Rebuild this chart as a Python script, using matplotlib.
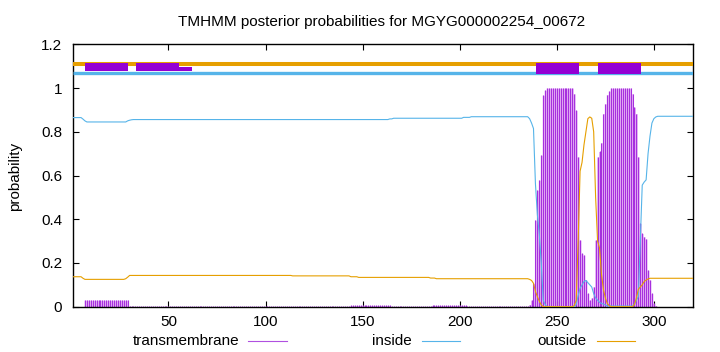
import matplotlib
matplotlib.use('Agg')
import matplotlib.pyplot as plt
from matplotlib.lines import Line2D
from matplotlib.patches import Rectangle
import numpy as np

plt.rcParams['font.family'] = ['Liberation Sans', 'DejaVu Sans']

seq_len = 320
residues = np.arange(1, seq_len + 1)

# posterior probabilities, residue 1..320
transmembrane = np.array(
    [0.0] * 6 + [0.03] * 23 + [0.001] * 114 + [0.006] * 21 + [0.001] * 21
    + [0.006] * 18 + [0.001] * 32
    + [0.01, 0.03, 0.107, 0.396, 0.533, 0.579, 0.693, 0.967, 0.99]
    + [1.0] * 14
    + [0.974, 0.898, 0.685, 0.305, 0.244, 0.236, 0.122, 0.061, 0.03, 0.04,
       0.091, 0.305, 0.685, 0.71, 0.75, 0.883, 0.928, 0.97, 0.986]
    + [1.0] * 11
    + [0.974, 0.913, 0.883, 0.685, 0.381, 0.335, 0.32, 0.31, 0.167, 0.122,
       0.061, 0.015, 0.005]
    + [0.0] * 19)

inside = np.array(
    [0.865] * 5 + [0.858, 0.85] + [0.845] * 21 + [0.85, 0.853, 0.855]
    + [0.856] * 132 + [0.859] * 2 + [0.862] * 36 + [0.866] * 4 + [0.869] * 30
    + [0.86, 0.84, 0.815, 0.563, 0.42, 0.33, 0.2, 0.03, 0.01]
    + [0.0] * 15
    + [0.01, 0.05, 0.084, 0.1, 0.115, 0.12, 0.11, 0.1, 0.09, 0.06, 0.04,
       0.03, 0.02, 0.015, 0.012, 0.008]
    + [0.003] * 14
    + [0.01, 0.03, 0.046, 0.3, 0.556, 0.57, 0.58, 0.7, 0.78, 0.84, 0.86, 0.868]
    + [0.871] * 19)

outside = np.array(
    [0.137] * 5 + [0.13] + [0.125] * 21 + [0.128, 0.135] + [0.143] * 84
    + [0.141] * 30 + [0.137] * 4 + [0.134] * 37 + [0.131] * 3 + [0.128] * 48
    + [0.125, 0.12, 0.107, 0.07, 0.046, 0.025, 0.008]
    + [0.0] * 16
    + [0.005, 0.03, 0.3, 0.62, 0.66, 0.74, 0.8, 0.86, 0.868, 0.862, 0.8, 0.5,
       0.3, 0.27, 0.15, 0.08, 0.04, 0.015, 0.005]
    + [0.0] * 12
    + [0.01, 0.04, 0.08, 0.09, 0.1, 0.115, 0.122, 0.127]
    + [0.13] * 23)

# predicted segments drawn at the top (start, end)
upper_boxes = [(7.0, 29.0), (33.1, 55.4)]
upper_box_tail = (55.4, 62.0)
helix_boxes = [(239.3, 261.5), (271.2, 293.4)]

c_tm = '#9400d3'
c_tm_light = '#e2aaf4'
c_in = '#56b4e9'
c_out = '#e69f00'

fig = plt.figure(figsize=(7.2, 3.52), dpi=100)
ax = fig.add_axes([0.1018, 0.1287, 0.8603, 0.7453])

ax.fill_between(residues, 0, transmembrane, step='mid', color=c_tm_light, lw=0, zorder=1.5)
ax.vlines(residues, 0, transmembrane, color='#a630de', lw=0.75, zorder=2)
ax.plot(residues, inside, color=c_in, lw=0.8, zorder=3)
ax.plot(residues, outside, color=c_out, lw=0.8, zorder=3)

ax.plot([1, seq_len], [1.11, 1.11], color=c_out, lw=2.9, solid_capstyle='butt', zorder=4)
ax.plot([1, seq_len], [1.07, 1.07], color=c_in, lw=2.4, solid_capstyle='butt', zorder=4)

for a, b in upper_boxes:
    ax.add_patch(Rectangle((a, 1.078), b - a, 0.038, color=c_tm, lw=0, zorder=5))
a, b = upper_box_tail
ax.add_patch(Rectangle((a, 1.078), b - a, 0.02, color=c_tm, lw=0, zorder=3.5))
for a, b in helix_boxes:
    ax.add_patch(Rectangle((a, 1.064), b - a, 0.052, color=c_tm, lw=0, zorder=5))

ax.set_xlim(1, seq_len)
ax.set_ylim(0, 1.2)
ax.set_xticks([50, 100, 150, 200, 250, 300])
ax.set_yticks([0, 0.2, 0.4, 0.6, 0.8, 1.0, 1.2])
ax.set_yticklabels(['0', '0.2', '0.4', '0.6', '0.8', '1', '1.2'])
ax.tick_params(direction='in', top=True, right=True, length=4, labelsize=11)
ax.tick_params(axis='x', pad=6)
ax.tick_params(axis='y', pad=8)
for s in ax.spines.values():
    s.set_linewidth(1.0)

fig.text(0.53, 0.9375, 'TMHMM posterior probabilities for MGYG000002254_00672',
         ha='center', va='center', fontsize=11)
fig.text(0.021, 0.5, 'probability', rotation=90, ha='center', va='center', fontsize=11)

# key below the axis
leg_y = 0.031
for label, col, x_text, x0, x1 in [('transmembrane', '#b050e0', 0.333, 0.344, 0.399),
                                    ('inside', c_in, 0.572, 0.586, 0.639),
                                    ('outside', c_out, 0.815, 0.829, 0.882)]:
    fig.text(x_text, leg_y, label, ha='right', va='center', fontsize=11)
    fig.add_artist(Line2D([x0, x1], [leg_y, leg_y], color=col, lw=0.8,
                          transform=fig.transFigure))

fig.savefig('out.png', dpi=100)
